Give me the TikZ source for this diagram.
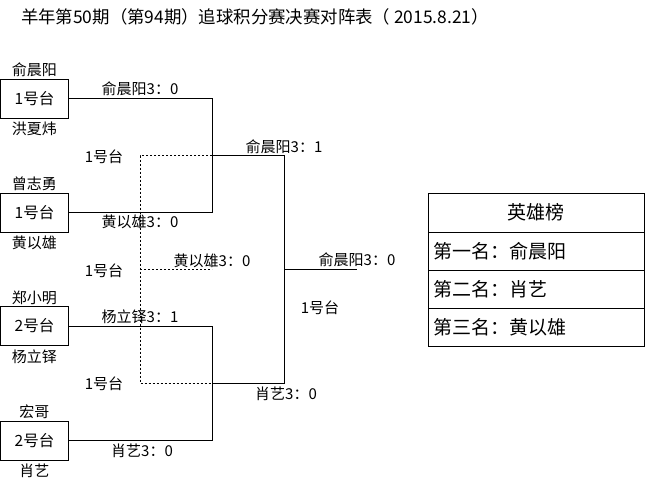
\documentclass[tikz,border=0pt]{standalone}
\usepackage{fontspec}
\setmainfont{Noto Sans CJK SC}
\usetikzlibrary{positioning}

\begin{document}
\begin{tikzpicture}[x=1pt,y=-1pt,line width=1pt,
  deskbox/.style={draw, minimum width=68pt, minimum height=39pt, inner sep=0pt, font=\fontsize{15.5}{17}\selectfont},
  player/.style={inner sep=0pt, font=\fontsize{15}{17}\selectfont},
  score/.style={inner sep=0pt, font=\fontsize{15}{17}\selectfont},
  herocell/.style={draw, outer sep=0pt, minimum width=216pt, minimum height=38.3pt, text width=206pt, inner xsep=5pt, font=\fontsize{19}{21}\selectfont},
  dots/.style={line width=1pt, dash pattern=on 2pt off 2pt}]

\useasboundingbox (0,0) rectangle (648,485);

% title
\node[font=\fontsize{17.4}{20}\selectfont] (title) at (255,17) {羊年第50期（第94期）追球积分赛决赛对阵表（ 2015.8.21）};

% first round tables
\node[deskbox] (t1) at (34.5,98.5) {1号台};
\node[deskbox] (t2) at (34.5,212.5) {1号台};
\node[deskbox] (t3) at (34.5,326) {2号台};
\node[deskbox] (t4) at (34.5,440.5) {2号台};

\node[player, above=1pt of t1] (p1) {俞晨阳};
\node[player, below=3pt of t1] (p2) {洪夏炜};
\node[player, above=1pt of t2] (p3) {曾志勇};
\node[player, below=3pt of t2] (p4) {黄以雄};
\node[player, above=1pt of t3] (p5) {郑小明};
\node[player, below=3pt of t3] (p6) {杨立铎};
\node[player, above=1pt of t4] (p7) {宏哥};
\node[player, below=3pt of t4] (p8) {肖艺};

% bracket corners
\coordinate (a1) at (212,98.5);
\coordinate (a2) at (212,212.5);
\coordinate (a3) at (212,326);
\coordinate (a4) at (212,440.5);
\coordinate (s1) at (212,155.5);
\coordinate (s2) at (212,383);
\coordinate (f1) at (284,155.5);
\coordinate (f2) at (284,383);
\coordinate (c1) at (284,269);
\coordinate (w1) at (357,269);
\coordinate (d1) at (140,155.5);
\coordinate (d2) at (140,383);
\coordinate (d3) at (140,269);
\coordinate (d4) at (212,269);

\draw (t1.east) -- (a1) -- (a2) -- (t2.east);
\draw (t3.east) -- (a3) -- (a4) -- (t4.east);
\draw (s1) -- (f1) -- (f2) -- (s2);
\draw (c1) -- (w1);
\draw[dots] (s1) -- (d1) -- (d2) -- (s2);
\draw[dots] (d3) -- (d4);

% results
\node[score] (r1) at (140,89) {俞晨阳3：0};
\node[score] (r2) at (140,222) {黄以雄3：0};
\node[score] (r3) at (140,317) {杨立铎3：1};
\node[score] (r4) at (142,451) {肖艺3：0};
\node[score] (r5) at (284,147) {俞晨阳3：1};
\node[score] (r6) at (286,394) {肖艺3：0};
\node[score] (r7) at (212,261) {黄以雄3：0};
\node[score] (r8) at (357,260) {俞晨阳3：0};

\node[score] (k1) at (104,157) {1号台};
\node[score] (k2) at (104,271) {1号台};
\node[score] (k3) at (104,384) {1号台};
\node[score] (k4) at (320,308) {1号台};

% hero list
\node[herocell, align=center, minimum height=39pt] (h0) at (536,212.5) {英雄榜};
\node[herocell, align=left, below=0pt of h0] (h1) {第一名：俞晨阳};
\node[herocell, align=left, below=0pt of h1] (h2) {第二名：肖艺};
\node[herocell, align=left, below=0pt of h2] (h3) {第三名：黄以雄};

\end{tikzpicture}
\end{document}
